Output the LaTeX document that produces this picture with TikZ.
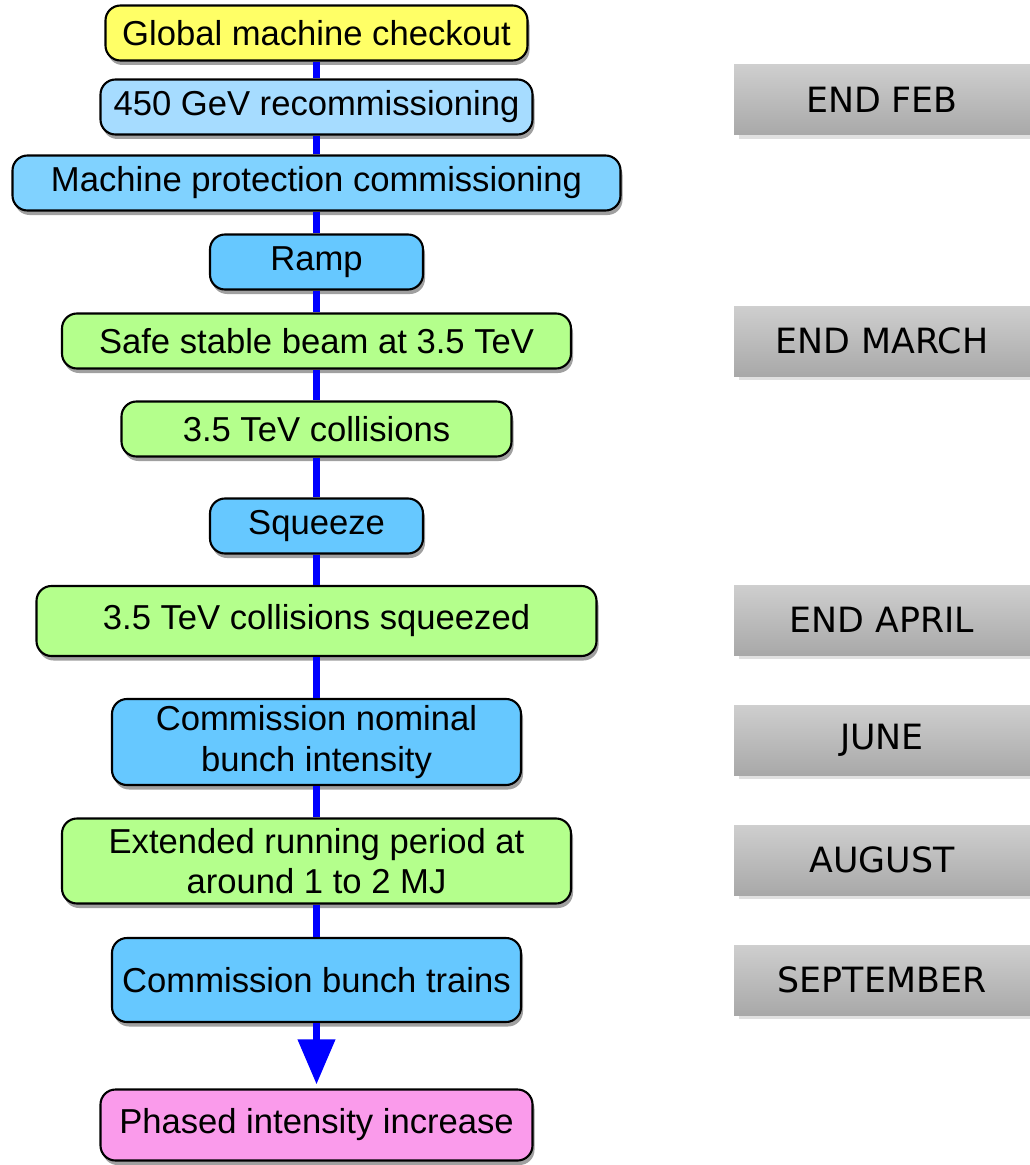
\documentclass[tikz,border=0pt]{standalone}
\usepackage{fontspec}
\setmainfont{Liberation Sans}
\newfontfamily\monthfont{DejaVu Sans}
\usetikzlibrary{arrows.meta,shadows,positioning}

\definecolor{phyellow}{RGB}{255,255,102}
\definecolor{phlightblue}{RGB}{166,220,255}
\definecolor{phmidblue}{RGB}{128,210,255}
\definecolor{phblue}{RGB}{102,200,255}
\definecolor{phgreen}{RGB}{180,255,140}
\definecolor{phpink}{RGB}{250,155,235}

\begin{document}
\begin{tikzpicture}[>=Triangle,
    stage/.style={draw=black, line width=1.2pt, rounded corners=0.3cm, align=center,
      inner sep=0pt, minimum height=1.1cm, font=\fontsize{19.7}{23}\selectfont,
      drop shadow={shadow xshift=0.04cm, shadow yshift=-0.09cm, opacity=0.75}},
    month/.style={top color=black!19, bottom color=black!34, minimum width=5.92cm,
      minimum height=1.4cm, inner sep=0pt, font=\monthfont\fontsize{19.8}{24}\selectfont,
      general shadow={fill=black!12, shadow xshift=0.1cm, shadow yshift=-0.08cm}},
    link/.style={draw=blue, line width=4pt}]
    \useasboundingbox (0,0) rectangle (20.58,-23.3);

    % the run plan
    \node[stage, fill=phyellow, minimum width=8.44cm] (checkout) at (6.33,-0.66) {Global machine checkout};
    \node[stage, fill=phlightblue, minimum width=8.64cm] (recomm) at (6.33,-2.14) {450 GeV recommissioning};
    \node[stage, fill=phmidblue, minimum width=12.16cm] (protect) at (6.33,-3.66) {Machine protection commissioning};
    \node[stage, fill=phblue, minimum width=4.26cm] (ramp) at (6.33,-5.24) {Ramp};
    \node[stage, fill=phgreen, minimum width=10.18cm] (stable) at (6.33,-6.82) {Safe stable beam at 3.5 TeV};
    \node[stage, fill=phgreen, minimum width=7.8cm] (coll) at (6.33,-8.58) {3.5 TeV collisions};
    \node[stage, fill=phblue, minimum width=4.26cm] (squeeze) at (6.33,-10.52) {Squeeze};
    \node[stage, fill=phgreen, minimum width=11.2cm, minimum height=1.4cm] (squeezed) at (6.33,-12.42) {3.5 TeV collisions squeezed};
    \node[stage, fill=phblue, minimum width=8.18cm, minimum height=1.72cm] (nominal) at (6.33,-14.84) {Commission nominal\\bunch intensity};
    \node[stage, fill=phgreen, minimum width=10.18cm, minimum height=1.7cm] (extended) at (6.33,-17.22) {Extended running period at\\around 1 to 2 MJ};
    \node[stage, fill=phblue, minimum width=8.18cm, minimum height=1.68cm] (trains) at (6.33,-19.6) {Commission bunch trains};
    \node[stage, fill=phpink, minimum width=8.64cm, minimum height=1.42cm] (phased) at (6.33,-22.5) {Phased intensity increase};

    % dates
    \node[month] (feb) at (17.64,-2.0) {END FEB};
    \node[month] (march) at (17.64,-6.82) {END MARCH};
    \node[month] (april) at (17.64,-12.4) {END APRIL};
    \node[month] (june) at (17.64,-14.8) {JUNE};
    \node[month] (august) at (17.64,-17.2) {AUGUST};
    \node[month] (sept) at (17.64,-19.6) {SEPTEMBER};

    \foreach \from/\to in {checkout/recomm, recomm/protect, protect/ramp, ramp/stable,
        stable/coll, coll/squeeze, squeeze/squeezed, squeezed/nominal,
        nominal/extended, extended/trains}
      \draw[link] (\from) -- (\to);
    \draw[link, -{Triangle[width=0.72cm, length=0.9cm]}, shorten >=0.08cm] (trains) -- (phased);
\end{tikzpicture}
\end{document}
